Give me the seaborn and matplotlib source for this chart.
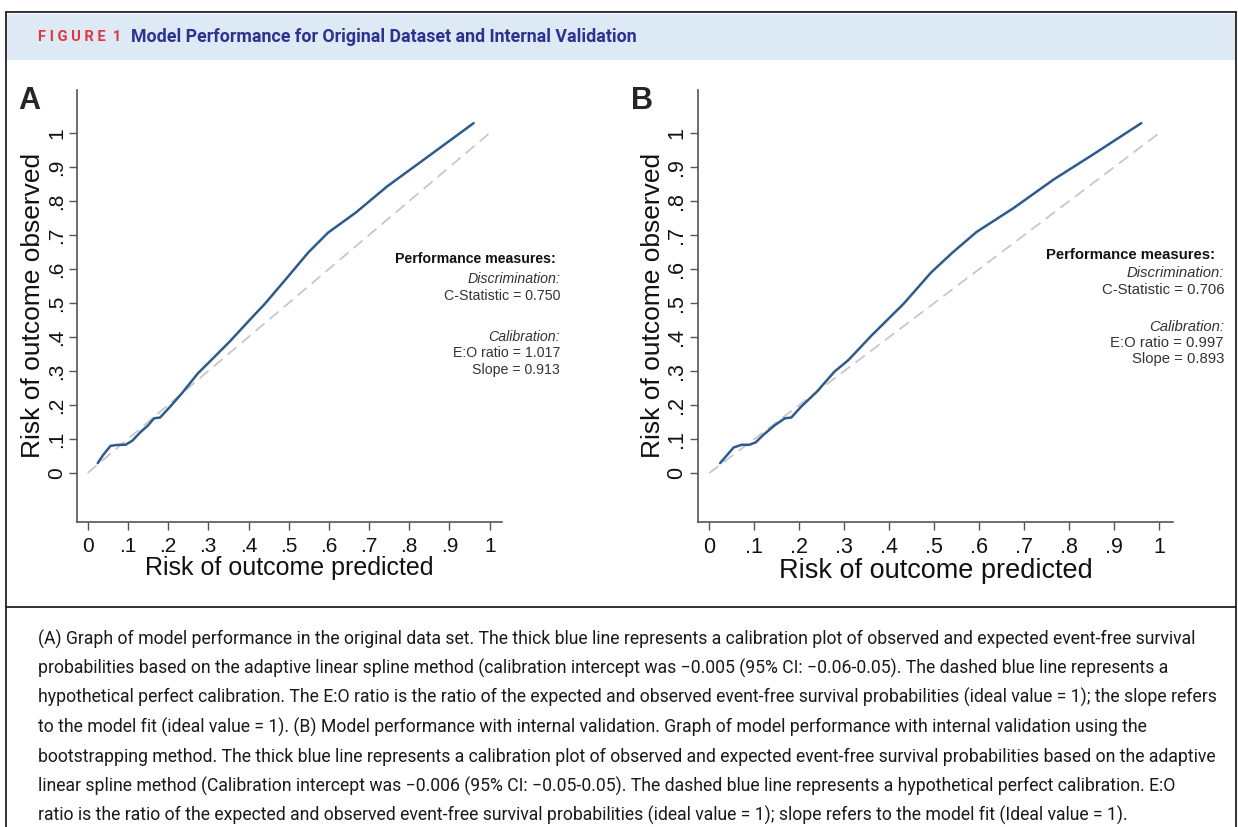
import matplotlib
matplotlib.use("Agg")
import matplotlib.pyplot as plt
import matplotlib.font_manager as fm
from matplotlib.patches import Rectangle
from matplotlib.lines import Line2D
import seaborn as sns
import pandas as pd

# ─── Data ─────────────────────────────────────────────────────────────────────
pred_a = [0.025, 0.039, 0.057, 0.077, 0.094, 0.111, 0.131, 0.151, 0.165, 0.180,
          0.205, 0.234, 0.274, 0.303, 0.352, 0.402, 0.441, 0.500, 0.549, 0.598,
          0.667, 0.746, 0.825, 0.960]
obs_a = [0.029, 0.054, 0.080, 0.083, 0.083, 0.095, 0.120, 0.141, 0.161, 0.163,
         0.195, 0.234, 0.293, 0.327, 0.385, 0.449, 0.498, 0.580, 0.649, 0.707,
         0.766, 0.844, 0.912, 1.029]

pred_b = [0.024, 0.037, 0.054, 0.072, 0.089, 0.103, 0.120, 0.146, 0.168, 0.182,
          0.204, 0.239, 0.278, 0.309, 0.361, 0.432, 0.493, 0.541, 0.594, 0.677,
          0.765, 0.853, 0.960]
obs_b = [0.029, 0.049, 0.075, 0.083, 0.083, 0.090, 0.112, 0.141, 0.161, 0.163,
         0.195, 0.239, 0.298, 0.332, 0.405, 0.498, 0.590, 0.649, 0.709, 0.780,
         0.863, 0.937, 1.029]

ideal = [0.0, 1.0]
ticks = [0.0, 0.1, 0.2, 0.3, 0.4, 0.5, 0.6, 0.7, 0.8, 0.9, 1.0]
tick_labels = ["0", ".1", ".2", ".3", ".4", ".5", ".6", ".7", ".8", ".9", "1"]

measures_a = ["0.750", "1.017", "0.913"]
measures_b = ["0.706", "0.997", "0.893"]

caption_lines = [
    "(A) Graph of model performance in the original data set. The thick blue line represents a calibration plot of observed and expected event-free survival",
    "probabilities based on the adaptive linear spline method (calibration intercept was \u22120.005 (95% CI: \u22120.06-0.05). The dashed blue line represents a",
    "hypothetical perfect calibration. The E:O ratio is the ratio of the expected and observed event-free survival probabilities (ideal value = 1); the slope refers",
    "to the model fit (ideal value = 1). (B) Model performance with internal validation. Graph of model performance with internal validation using the",
    "bootstrapping method. The thick blue line represents a calibration plot of observed and expected event-free survival probabilities based on the adaptive",
    "linear spline method (Calibration intercept was \u22120.006 (95% CI: \u22120.05-0.05). The dashed blue line represents a hypothetical perfect calibration. E:O",
    "ratio is the ratio of the expected and observed event-free survival probabilities (ideal value = 1); slope refers to the model fit (Ideal value = 1).",
]

# ─── Style ────────────────────────────────────────────────────────────────────
W, H = 1238, 827
sns.set_style("ticks")
plt.rcParams["font.family"] = ["Liberation Sans", "DejaVu Sans"]

installed = {f.name for f in fm.fontManager.ttflist}
cap_font = "Liberation Sans Narrow" if "Liberation Sans Narrow" in installed else "Roboto"

LINE_COL = "#2d5b8c"
AX_COL = "#555555"


def fx(px):
    return px / W


def fy(py):
    return 1 - py / H


fig = plt.figure(figsize=(W / 100, H / 100), dpi=100)

# ─── Frame / header ───────────────────────────────────────────────────────────
fig.patches.append(Rectangle((fx(7), fy(60)), fx(1229), fy(14) - fy(60),
                             transform=fig.transFigure, facecolor="#dde9f5",
                             edgecolor="none", zorder=0))
for xs, ys in [([6, 1236], [12, 12]), ([6, 6], [12, 830]), ([1236, 1236], [12, 830]),
               ([6, 1236], [607, 607])]:
    fig.add_artist(Line2D([fx(v) for v in xs], [fy(v) for v in ys],
                          transform=fig.transFigure, color="#222222", lw=1.3))

fig.text(fx(38), fy(37), "F I G U R E  1", color="#e0363c", fontsize=10.5,
         fontweight="bold", family=[cap_font, "DejaVu Sans"], va="center")
fig.text(fx(131), fy(37), "Model Performance for Original Dataset and Internal Validation",
         color="#2b3290", fontsize=12.8, fontweight="bold",
         family=[cap_font, "DejaVu Sans"], va="center")


# ─── Panels ───────────────────────────────────────────────────────────────────
def panel(rect, x0_px, unit_px, pred, obs, letter, letter_x, text_right, meas,
          fs, xlab_fs, ylab_fs, ann_fs):
    ax = fig.add_axes(rect)
    left_px = rect[0] * W
    right_px = (rect[0] + rect[2]) * W
    df = pd.DataFrame({"pred": pred, "obs": obs})
    diag = pd.DataFrame({"x": ideal, "y": ideal})
    sns.lineplot(data=diag, x="x", y="y", ax=ax, color="#c4c4c4", lw=1.2,
                 linestyle=(0, (7, 4)))
    sns.lineplot(data=df, x="pred", y="obs", ax=ax, color=LINE_COL, lw=1.8,
                 sort=False, estimator=None)
    ax.set_xlim((left_px - x0_px) / unit_px, (right_px - x0_px) / unit_px)
    ax.set_ylim(-(521.7 - 473) / 340, (473 - 90) / 340)
    ax.set_xticks(ticks)
    ax.set_xticklabels(tick_labels, fontsize=fs)
    ax.set_yticks(ticks)
    ax.set_yticklabels(tick_labels, fontsize=fs, rotation=90, va="center")
    ax.tick_params(axis="both", length=6, width=1, color=AX_COL,
                   labelcolor="#111111")
    ax.tick_params(axis="x", pad=5)
    ax.tick_params(axis="y", pad=2)
    ax.set_xlabel("Risk of outcome predicted", fontsize=xlab_fs, labelpad=0,
                  color="#111111")
    ax.set_ylabel("Risk of outcome observed", fontsize=ylab_fs, labelpad=1,
                  color="#111111")
    for s in ["top", "right"]:
        ax.spines[s].set_visible(False)
    for s in ["left", "bottom"]:
        ax.spines[s].set_color(AX_COL)
        ax.spines[s].set_linewidth(1.2)

    fig.text(fx(letter_x), fy(101), letter, fontsize=22, fontweight="bold",
             va="center", ha="left")

    tx, head_x, ys = text_right
    fig.text(fx(head_x), fy(ys[0]), "Performance measures:", fontsize=ann_fs,
             fontweight="bold", ha="right", va="center", color="#111111")
    rows = [("Discrimination:", True), ("C-Statistic = " + meas[0], False),
            ("Calibration:", True), ("E:O ratio = " + meas[1], False),
            ("Slope = " + meas[2], False)]
    for (txt, it), yy in zip(rows, ys[1:]):
        fig.text(fx(tx), fy(yy), txt, fontsize=ann_fs, ha="right", va="center",
                 style="italic" if it else "normal", color="#333333")
    return ax


bottom = fy(521.7)
height = fy(90) - fy(521.7)
panel([fx(77), bottom, fx(502) - fx(77), height], 87.7, 402, pred_a, obs_a, "A", 18,
      (560, 556, [259, 279, 296, 337, 353, 370]), measures_a, 15, 18, 19, 10.2)
panel([fx(698), bottom, fx(1173) - fx(698), height], 709.3, 450, pred_b, obs_b, "B", 631,
      (1224, 1215, [255, 273, 290, 327, 343, 359]), measures_b, 15.5, 19.5, 19, 10.7)

# ─── Caption ──────────────────────────────────────────────────────────────────
for i, line in enumerate(caption_lines):
    fig.text(fx(38), fy(639 + i * 29.4), line, fontsize=12.7, color="#1a1a1a",
             family=[cap_font, "DejaVu Sans"], va="center", ha="left")

fig.savefig("out.png", dpi=100)
